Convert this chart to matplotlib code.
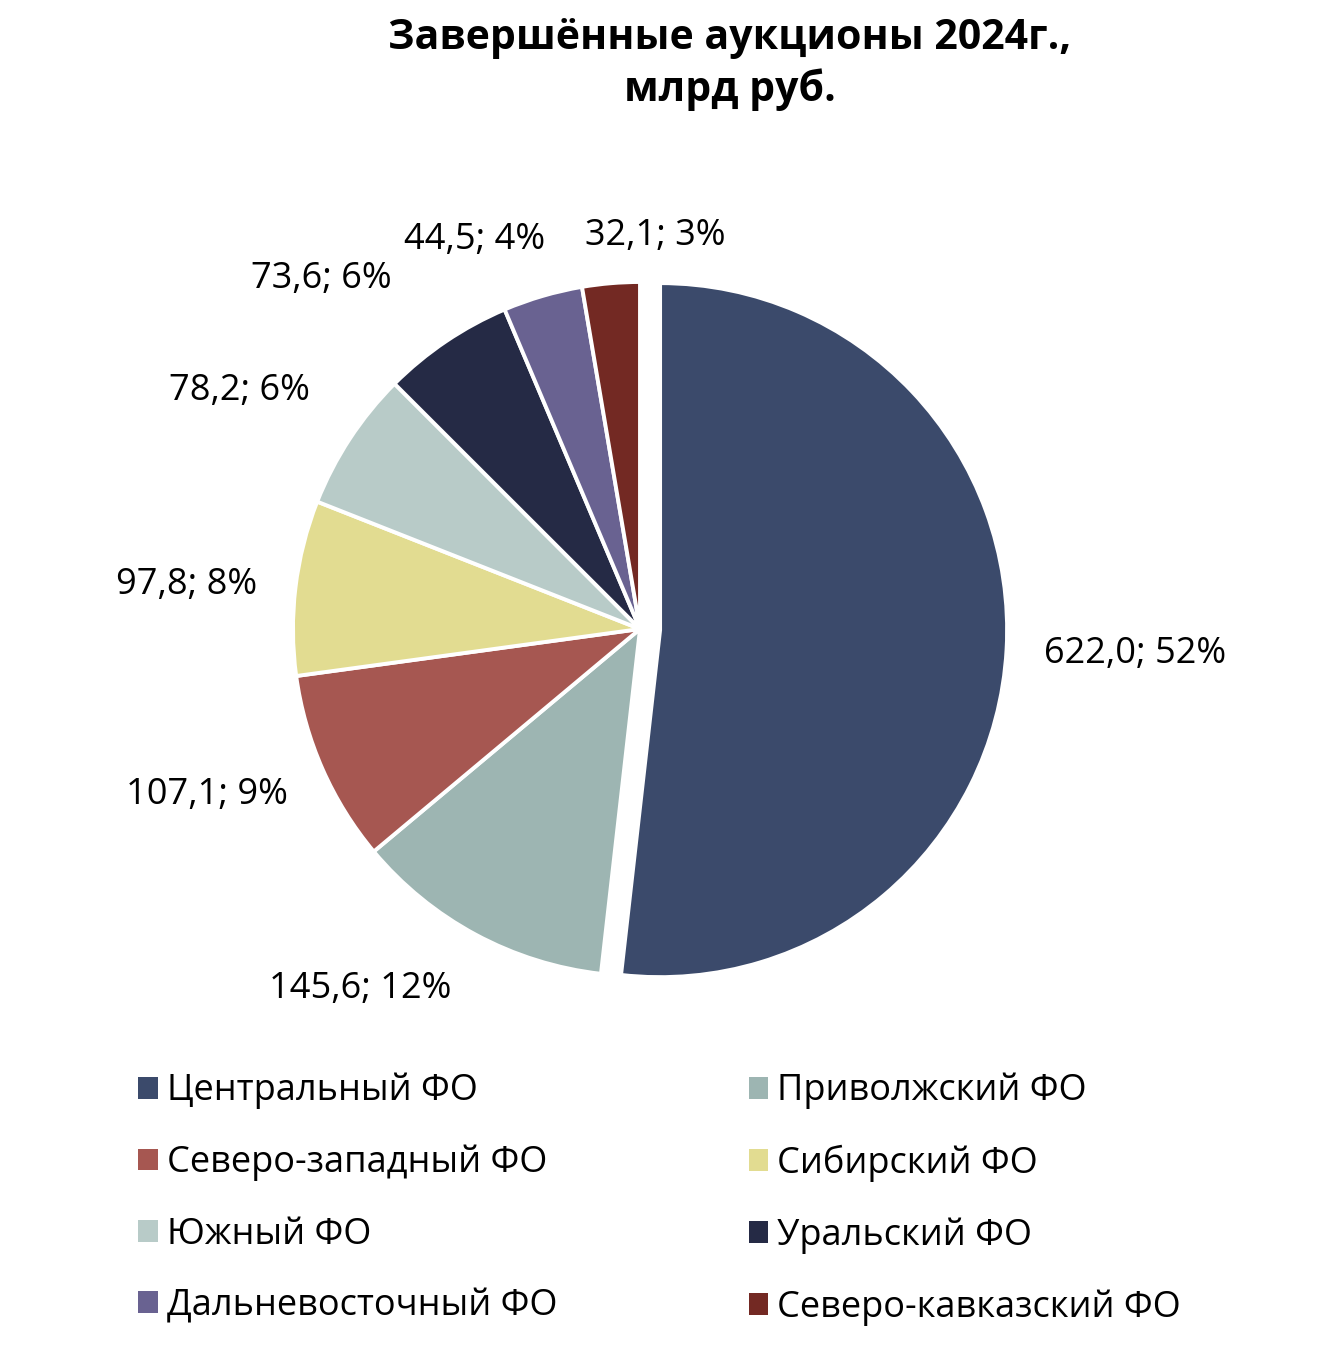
import numpy as np
import matplotlib.pyplot as plt
from matplotlib.patches import Patch

plt.rcParams['font.family'] = ['Open Sans', 'DejaVu Sans']

# Данные
regions = ['Центральный ФО', 'Приволжский ФО', 'Северо-западный ФО', 'Сибирский ФО',
           'Южный ФО', 'Уральский ФО', 'Дальневосточный ФО', 'Северо-кавказский ФО']
values = [622.0, 145.6, 107.1, 97.8, 78.2, 73.6, 44.5, 32.1]
shares = [52, 12, 9, 8, 6, 6, 4, 3]
colors = ['#3B4A6B', '#9DB5B2', '#A65751', '#E2DC91',
          '#B8CBC8', '#252A45', '#696291', '#732923']

# Положение подписей (радиус в долях R и сдвиг угла в градусах)
label_r = [1.41, 1.32, 1.35, 1.33, 1.36, 1.38, 1.23, 1.14]
label_dang = [0.6, -10.3, -3.4, 1.2, 2.7, 8.7, 7.4, -6.1]
label_dx, label_dy = 0.017, -0.006
explode = [0.058, 0, 0, 0, 0, 0, 0, 0]

R_PX = 347
fig = plt.figure(figsize=(13.32, 13.6), dpi=100)
ax = fig.add_axes([(640 - 1.4 * R_PX) / 1332, (1360 - 629 - 1.4 * R_PX) / 1360,
                   2.8 * R_PX / 1332, 2.8 * R_PX / 1360])

wedges, _ = ax.pie(values, colors=colors, startangle=90, counterclock=False,
                   explode=explode, radius=1.0,
                   wedgeprops=dict(edgecolor='white', linewidth=2.8))

for w, v, s, r, da in zip(wedges, values, shares, label_r, label_dang):
    ang = np.deg2rad((w.theta1 + w.theta2) / 2 + da)
    txt = f'{v:.1f}'.replace('.', ',') + f'; {s}%'
    ax.text(r * np.cos(ang) + label_dx, r * np.sin(ang) + label_dy, txt,
            ha='center', va='center', fontsize=26)

ax.set_xlim(-1.4, 1.4)
ax.set_ylim(-1.4, 1.4)
ax.set_aspect('equal')
ax.axis('off')

fig.text(0.548, 0.9526, 'Завершённые аукционы 2024г.,\nмлрд руб.', ha='center', va='center',
         fontsize=29.5, fontweight='bold', linespacing=1.3)

# Легенда: порядок по строкам, как в оригинале
order = [0, 2, 4, 6, 1, 3, 5, 7]
handles = [Patch(facecolor=colors[i], edgecolor='none') for i in order]
labels = [regions[i] for i in order]
fig.legend(handles, labels, ncol=2, loc='upper left', bbox_to_anchor=(0.079, 0.235),
           frameon=False, fontsize=26, handlelength=0.55, handleheight=0.55,
           handletextpad=0.25, columnspacing=5.3, labelspacing=0.98)

fig.savefig('out.png', dpi=100)
